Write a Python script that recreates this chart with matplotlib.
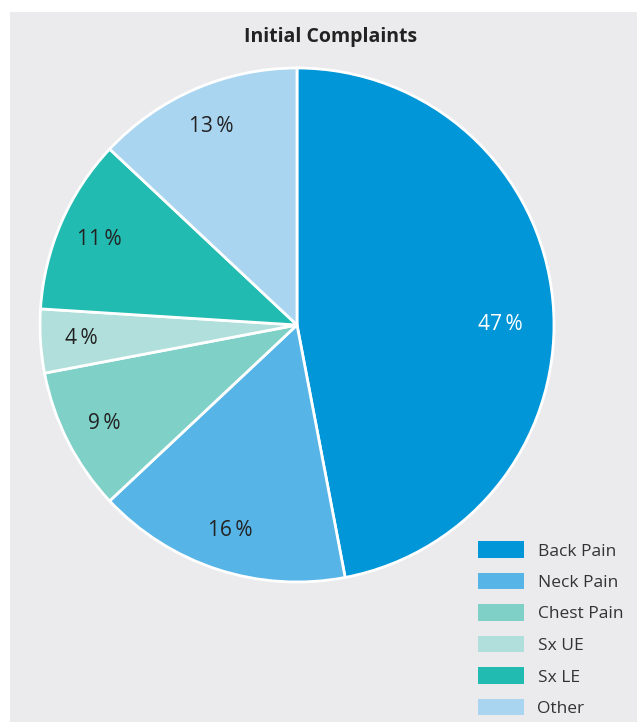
import matplotlib
matplotlib.use("Agg")
import matplotlib.pyplot as plt
from matplotlib.patches import Rectangle

categories = ["Back Pain", "Neck Pain", "Chest Pain", "Sx UE", "Sx LE", "Other"]
values = [47, 16, 9, 4, 11, 13]
colors = ["#0096d7", "#57b4e7", "#7fd0c7", "#b1e0dc", "#22bbb1", "#aad5f1"]
label_colors = ["white", "#222222", "#222222", "#222222", "#222222", "#222222"]
title = "Initial Complaints"

plt.rcParams['font.family'] = ['Open Sans', 'DejaVu Sans']

W, H = 637, 722
fig = plt.figure(figsize=(W / 100, H / 100), dpi=100)
fig.patch.set_facecolor("white")
fig.add_artist(Rectangle((10 / W, 0), 1 - 10 / W, (H - 12) / H, transform=fig.transFigure,
                         facecolor="#ebebee", edgecolor="none", zorder=0))

cx, cy, r = 297, 325, 257
ax = fig.add_axes([(cx - r) / W, (H - cy - r) / H, 2 * r / W, 2 * r / H])
ax.set_facecolor("none")

wedges, texts, autotexts = ax.pie(
    values, colors=colors, startangle=90, counterclock=False,
    autopct=lambda p: f"{p:.0f}\u2009%", pctdistance=0.84, radius=1,
    wedgeprops=dict(edgecolor="white", linewidth=2.0),
    textprops=dict(fontsize=15))
for t, c in zip(autotexts, label_colors):
    t.set_color(c)
# first label sits on the horizontal axis
autotexts[0].set_position((0.79, 0.0))
ax.set_xlim(-1, 1)
ax.set_ylim(-1, 1)
ax.set_aspect("equal")
ax.axis("off")

fig.text(331 / W, 1 - 37 / H, title, ha="center", va="center", fontsize=14,
         fontweight="bold", color="#222222")

leg = fig.legend(wedges, categories, loc="lower right",
                 bbox_to_anchor=(623 / W, 5 / H), frameon=False, fontsize=12.5,
                 handlelength=2.65, handleheight=1.08, handletextpad=0.75,
                 labelspacing=0.77, borderaxespad=0, borderpad=0)
for tx in leg.get_texts():
    tx.set_color("#333333")
for h in leg.legend_handles:
    h.set_edgecolor("none")

fig.savefig("out.png", dpi=100)
